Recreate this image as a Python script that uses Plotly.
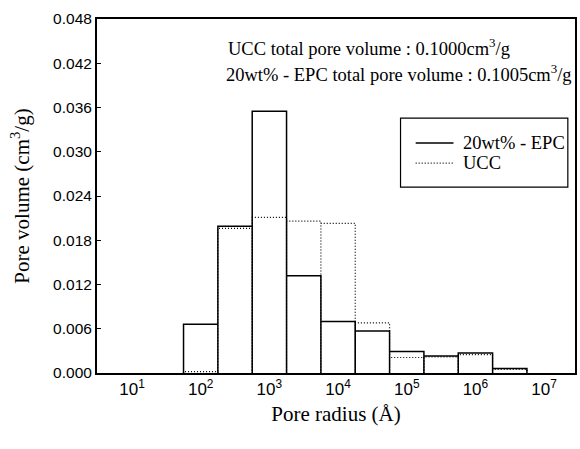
import numpy as np
import plotly.graph_objects as go

# bin centres as log10(pore radius / Å)
bin_log_centers = [2.0, 2.5, 3.0, 3.5, 4.0, 4.5, 5.0, 5.5, 6.0, 6.5]
bin_log_width = 0.5
epc_values = [0.0066, 0.0199, 0.0355, 0.0132, 0.0070, 0.0057, 0.0029, 0.0023, 0.0027, 0.0006]
ucc_values = [0.0002, 0.0196, 0.0211, 0.0206, 0.0203, 0.0068, 0.0021, 0.0022, 0.0025, 0.0005]
y_ticks = [0.000, 0.006, 0.012, 0.018, 0.024, 0.030, 0.036, 0.042, 0.048]
x_tick_exponents = [1, 2, 3, 4, 5, 6, 7]
series_names = ["20wt% - EPC", "UCC"]

SERIF = "Liberation Serif"
SANS = "Liberation Sans"
EPC_LINE = dict(color="black", width=1.5)
UCC_LINE = dict(color="black", width=1.2, dash="1px,2px")


def outline(values):
    xs, ys = [], []
    for c, v in zip(bin_log_centers, values):
        lo = 10 ** (c - bin_log_width / 2)
        hi = 10 ** (c + bin_log_width / 2)
        xs += [lo, lo, hi, hi]
        ys += [0, v, v, 0]
    return xs, ys


fig = go.Figure()
ux, uy = outline(ucc_values)
ex, ey = outline(epc_values)
fig.add_trace(go.Scatter(x=ex, y=ey, mode="lines", name=series_names[0], line=EPC_LINE))
fig.add_trace(go.Scatter(x=ux, y=uy, mode="lines", name=series_names[1], line=UCC_LINE))

fig.update_layout(
    width=580, height=449,
    margin=dict(l=97, r=3, t=19, b=76),
    paper_bgcolor="white", plot_bgcolor="white",
    showlegend=False,
    xaxis=dict(type="log", range=[0.49, 7.45],
               tickvals=[10 ** e for e in x_tick_exponents],
               ticktext=[f"10<sup>{e}</sup>" for e in x_tick_exponents],
               showgrid=False, zeroline=False, showline=True, mirror=True,
               linecolor="black", linewidth=2, ticks="",
               tickfont=dict(family=SANS, size=17, color="black"),
               title=dict(text="Pore radius (Å)", font=dict(family=SERIF, size=21, color="black"),
                          standoff=8)),
    yaxis=dict(range=[0, 0.048], tickvals=y_ticks, tickformat=".3f",
               showgrid=False, zeroline=False, showline=True, mirror=True,
               linecolor="black", linewidth=2, ticks="inside", ticklen=4,
               tickcolor="black",
               tickfont=dict(family=SANS, size=15.5, color="black"),
               title=dict(text="Pore volume (cm<sup>3</sup>/g)",
                          font=dict(family=SERIF, size=21, color="black"), standoff=18)),
)

# legend (frame, samples, labels)
fig.add_shape(type="rect", xref="paper", yref="paper", x0=0.635, x1=0.985, y0=0.525, y1=0.72,
              line=dict(color="black", width=1.2), fillcolor="rgba(0,0,0,0)")
legend_rows_y = [0.6497, 0.593]
for name, line, ly in zip(series_names, [EPC_LINE, UCC_LINE], legend_rows_y):
    fig.add_shape(type="line", xref="paper", yref="paper", x0=0.6667, x1=0.7458, y0=ly, y1=ly,
                  line=line)
    fig.add_annotation(xref="paper", yref="paper", x=0.7625, y=ly, xanchor="left", yanchor="middle",
                       text=name, showarrow=False,
                       font=dict(family=SERIF, size=18.5, color="black"))

fig.add_annotation(xref="paper", yref="paper", x=0.269, y=0.921, xanchor="left", yanchor="middle",
                   text="UCC total pore volume : 0.1000cm<sup>3</sup>/g", showarrow=False,
                   font=dict(family=SERIF, size=18.5, color="black"))
fig.add_annotation(xref="paper", yref="paper", x=0.266, y=0.847, xanchor="left", yanchor="middle",
                   text="20wt% - EPC total pore volume : 0.1005cm<sup>3</sup>/g", showarrow=False,
                   font=dict(family=SERIF, size=18.5, color="black"))

fig.write_html("out.html")
